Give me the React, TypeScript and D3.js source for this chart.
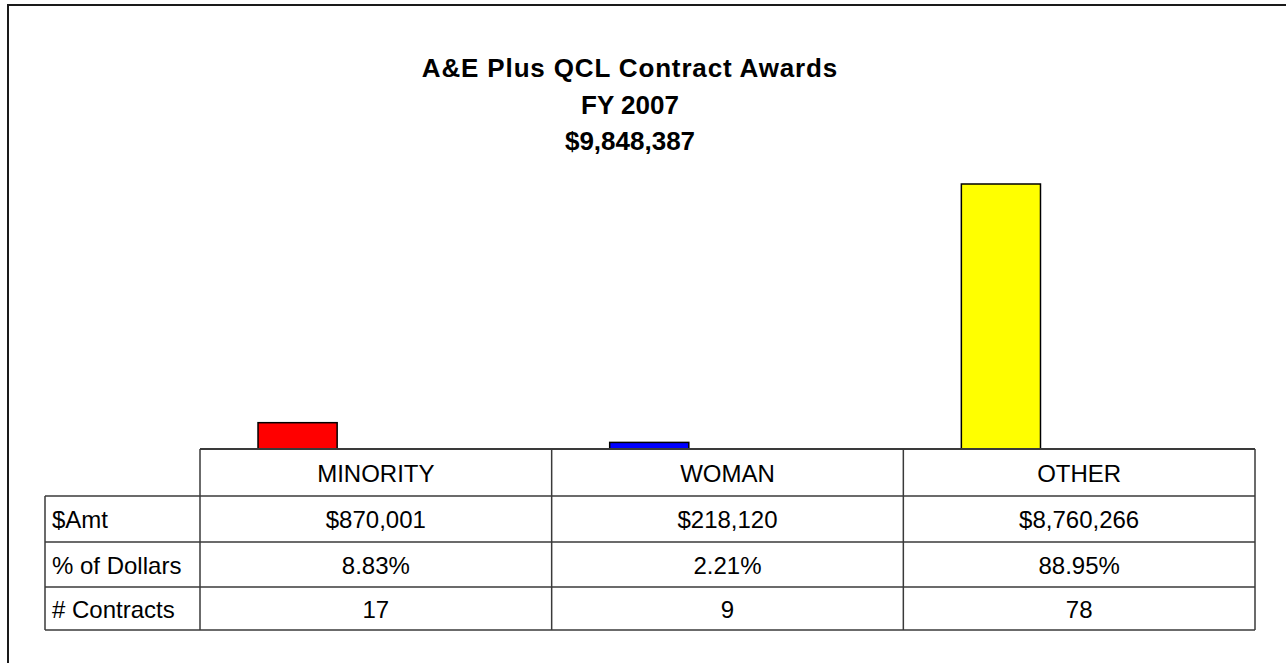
import React from 'react';
import * as d3 from 'd3';

// chart data
const categories = ['MINORITY', 'WOMAN', 'OTHER'];
const amounts = [870001, 218120, 8760266];
const percents = [8.83, 2.21, 88.95];
const contracts = [17, 9, 78];
const barColors = ['#FF0000', '#0000FF', '#FFFF00'];
const rowLabels = ['$Amt', '% of Dollars', '# Contracts'];
const titleLines = ['A&E Plus QCL Contract Awards', 'FY 2007', '$9,848,387'];

const WIDTH = 1286;
const HEIGHT = 663;
const FONT = '"Liberation Sans", Arial, sans-serif';

export default function App() {
    // layout
    const tableLeft = 45;
    const colLeft = 200;
    const colRight = 1255;
    const baseY = 449;
    const rowEdges = [449, 496, 542, 587, 630];

    // * scales
    const xScale = d3.scaleBand<string>()
        .domain(categories)
        .range([colLeft, colRight])
        .padding(0);

    const yScale = d3.scaleLinear()
        .domain([0, 10000000])
        .range([baseY, 146.5]);

    const bw = xScale.bandwidth();
    const barOffset = bw * 0.165;
    const barWidth = bw * 0.225;

    const fmtMoney = (v: number) => '$' + d3.format(',')(v);
    const fmtPct = (v: number) => d3.format('.2f')(v) + '%';

    const rows = [
        amounts.map(fmtMoney),
        percents.map(fmtPct),
        contracts.map(String),
    ];

    const midY = (i: number) => (rowEdges[i] + rowEdges[i + 1]) / 2 + 9;
    const lineColor = '#3a3a3a';

    return (
        <svg
            width={WIDTH}
            height={HEIGHT}
            style={{ position: 'absolute', left: 0, top: 0, background: '#fff' }}
            fontFamily={FONT}
        >
            {/* outer frame */}
            <rect x={8} y={5} width={WIDTH + 20} height={HEIGHT + 20} fill="#fff" stroke="#1a1a1a" strokeWidth={2} />

            {/* title */}
            {titleLines.map((t, i) => (
                <text
                    key={t}
                    x={630}
                    y={77 + i * 36.5}
                    textAnchor="middle"
                    fontSize={26}
                    fontWeight="bold"
                    letterSpacing={i === 0 ? 0.85 : 0}
                    fill="#000"
                >
                    {t}
                </text>
            ))}

            {/* bars */}
            {categories.map((c, i) => {
                const y = yScale(amounts[i]);
                return (
                    <rect
                        key={c}
                        x={(xScale(c) as number) + barOffset}
                        y={y}
                        width={barWidth}
                        height={baseY - y}
                        fill={barColors[i]}
                        stroke="#000"
                        strokeWidth={1.5}
                    />
                );
            })}

            {/* data table */}
            <g stroke={lineColor} strokeWidth={1.5} fill="none">
                {/* header row top */}
                <line x1={colLeft} x2={colRight} y1={rowEdges[0]} y2={rowEdges[0]} strokeWidth={2} />
                {/* horizontal lines */}
                {rowEdges.slice(1).map(y => (
                    <line key={y} x1={tableLeft} x2={colRight} y1={y} y2={y} />
                ))}
                {/* left edge of label column */}
                <line x1={tableLeft} x2={tableLeft} y1={rowEdges[1]} y2={rowEdges[4]} />
                {/* column dividers */}
                {categories.map(c => (
                    <line key={c} x1={xScale(c)} x2={xScale(c)} y1={rowEdges[0]} y2={rowEdges[4]} />
                ))}
                <line x1={colRight} x2={colRight} y1={rowEdges[0]} y2={rowEdges[4]} />
            </g>

            {/* header labels */}
            {categories.map(c => (
                <text
                    key={c}
                    x={(xScale(c) as number) + bw / 2}
                    y={midY(0)}
                    textAnchor="middle"
                    fontSize={24}
                    fill="#000"
                >
                    {c}
                </text>
            ))}

            {/* row labels and values */}
            {rows.map((vals, r) => (
                <g key={rowLabels[r]}>
                    <text x={52} y={midY(r + 1)} fontSize={24} fill="#000">
                        {rowLabels[r]}
                    </text>
                    {vals.map((v, i) => (
                        <text
                            key={i}
                            x={(xScale(categories[i]) as number) + bw / 2}
                            y={midY(r + 1)}
                            textAnchor="middle"
                            fontSize={24}
                            fill="#000"
                        >
                            {v}
                        </text>
                    ))}
                </g>
            ))}
        </svg>
    );
}
